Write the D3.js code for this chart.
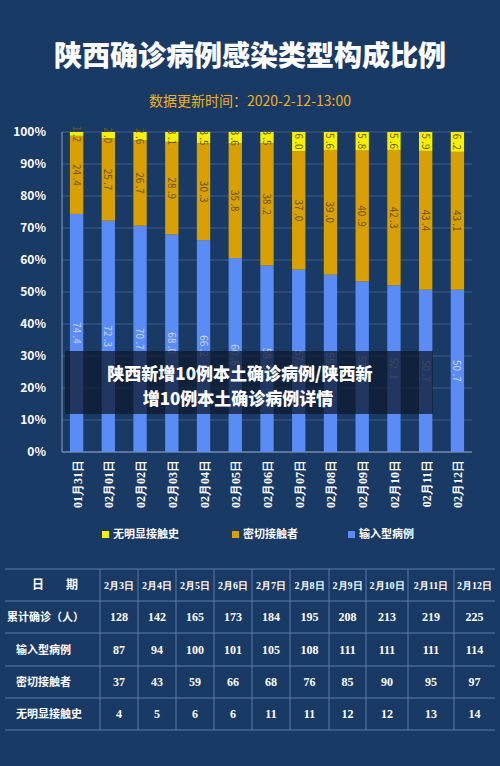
<!DOCTYPE html><html><head><meta charset="utf-8">
<script src="https://cdn.jsdelivr.net/npm/d3@7"></script>
<style>body{margin:0;background:#1a3a66}svg{display:block}</style></head><body>
<svg id="c" width="500" height="766"></svg>
<script>
const dates=["01月31日","02月01日","02月02日","02月03日","02月04日","02月05日","02月06日","02月07日","02月08日","02月09日","02月10日","02月11日","02月12日"];
const imported=[74.4,72.3,70.7,68.0,66.2,60.6,58.3,57.0,55.4,53.3,52.1,50.7,50.7];
const contact=[24.4,25.7,26.7,28.9,30.3,35.8,38.2,37.0,39.0,40.9,42.3,43.4,43.1];
const unknown=[1.2,2.0,2.6,3.1,3.5,3.6,3.5,6.0,5.6,5.8,5.6,5.9,6.2];
const yTicks=[0,10,20,30,40,50,60,70,80,90,100];
const tDates=["2月3日","2月4日","2月5日","2月6日","2月7日","2月8日","2月9日","2月10日","2月11日","2月12日"];
const tRows=[["累计确诊（人）",[128,142,165,173,184,195,208,213,219,225]],["输入型病例",[87,94,100,101,105,108,111,111,111,114]],["密切接触者",[37,43,59,66,68,76,85,90,95,97]],["无明显接触史",[4,5,6,6,11,11,12,12,13,14]]];
const svg=d3.select("#c");const F="'Noto Sans CJK SC',sans-serif";
svg.append("rect").attr("width",500).attr("height",766).attr("fill","#1a3a66");
svg.append("text").attr("x",250).attr("y",66).attr("text-anchor","middle").attr("fill","#fff").attr("font-family",F).attr("font-weight","900").attr("font-size",28).text("陕西确诊病例感染类型构成比例");
svg.append("text").attr("x",250).attr("y",106).attr("text-anchor","middle").attr("fill","#f0b020").attr("font-family",F).attr("font-size",14).text("数据更新时间：2020-2-12-13:00");
const x=d3.scaleBand().domain(dates).range([62,472]).paddingInner(0.58).paddingOuter(0.25);
const y=d3.scaleLinear().domain([0,100]).range([452,132]);
const g=svg.append("g");
g.selectAll("line.gr").data(yTicks).join("line").attr("x1",62).attr("x2",472).attr("y1",d=>y(d)).attr("y2",d=>y(d)).attr("stroke","#3f5c86").attr("stroke-width",1);
g.selectAll("text.yt").data(yTicks).join("text").attr("x",46).attr("y",d=>y(d)+4).attr("text-anchor","end").attr("fill","#fff").attr("font-family",F).attr("font-size",12).attr("font-weight","bold").text(d=>d+"%");
g.append("line").attr("x1",62).attr("x2",62).attr("y1",132).attr("y2",452).attr("stroke","#8aa0c0");
g.append("line").attr("x1",62).attr("x2",472).attr("y1",452).attr("y2",452).attr("stroke","#8aa0c0");
const series=[{v:imported,c:"#5b8cf5",t:"#c8d6f0"},{v:contact,c:"#d9a004",t:"#6a5010"},{v:unknown,c:"#f8f000",t:"#6a5a10"}];
dates.forEach((d,i)=>{let base=0;series.forEach(s=>{const v=s.v[i];const y0=y(base),y1=y(base+v);
g.append("rect").attr("x",x(d)).attr("width",x.bandwidth()).attr("y",y1).attr("height",y0-y1).attr("fill",s.c);
const cx=x(d)+x.bandwidth()/2,cy=(y0+y1)/2;
g.append("text").attr("transform",`translate(${cx-4},${cy}) rotate(90)`).attr("text-anchor","middle").attr("fill",s.t).attr("font-family",F).attr("font-size",10).text(v.toFixed(1).replace("."," ."));
base+=v;});
g.append("text").attr("transform",`translate(${x(d)+x.bandwidth()/2+5},460) rotate(-90)`).attr("text-anchor","end").attr("fill","#fff").attr("font-family","'Liberation Serif',serif").attr("font-weight","bold").attr("font-size",12).text(d);
});
const leg=[["无明显接触史","#f8f000",102],["密切接触者","#d9a004",232],["输入型病例","#5b8cf5",348]];
leg.forEach(l=>{svg.append("rect").attr("x",l[2]).attr("y",531).attr("width",7).attr("height",7).attr("fill",l[1]);
svg.append("text").attr("x",l[2]+11).attr("y",538).attr("fill","#fff").attr("font-family",F).attr("font-weight","bold").attr("font-size",11).text(l[0]);});
svg.append("rect").attr("x",65).attr("y",351).attr("width",368).attr("height",63).attr("fill","#0e1a2e").attr("opacity",0.75);
svg.append("text").attr("x",240).attr("y",380).attr("text-anchor","middle").attr("fill","#fff").attr("font-family",F).attr("font-weight","900").attr("font-size",17).text("陕西新增10例本土确诊病例/陕西新");
svg.append("text").attr("x",238).attr("y",405).attr("text-anchor","middle").attr("fill","#fff").attr("font-family",F).attr("font-weight","900").attr("font-size",17).text("增10例本土确诊病例详情");
const cols=[5,100,138,176,214,252,290,329,366,408,454,495];
const rowsY=[569,601,633,666,698,730];
const tg=svg.append("g");
rowsY.forEach(v=>tg.append("line").attr("x1",5).attr("x2",495).attr("y1",v).attr("y2",v).attr("stroke","#5a78a8"));
cols.slice(1,-1).forEach(v=>tg.append("line").attr("x1",v).attr("x2",v).attr("y1",569).attr("y2",730).attr("stroke","#5a78a8"));
const T=(xx,yy,t,sz,fam,anc)=>tg.append("text").attr("x",xx).attr("y",yy).attr("text-anchor",anc||"middle").attr("fill","#fff").attr("font-family",fam).attr("font-weight","bold").attr("font-size",sz).text(t);
T(38,589,"日",12,F);T(72,589,"期",12,F);
tDates.forEach((d,i)=>T((cols[i+1]+cols[i+2])/2,589,d,10,"'Liberation Serif',serif"));
tRows.forEach((r,j)=>{const cy=(rowsY[j+1]+rowsY[j+2])/2+4;
T(j==0?7:16,cy,r[0],11,F,"start");
r[1].forEach((v,i)=>T((cols[i+1]+cols[i+2])/2,cy,v,12,"'Liberation Serif',serif"));});
</script></body></html>
